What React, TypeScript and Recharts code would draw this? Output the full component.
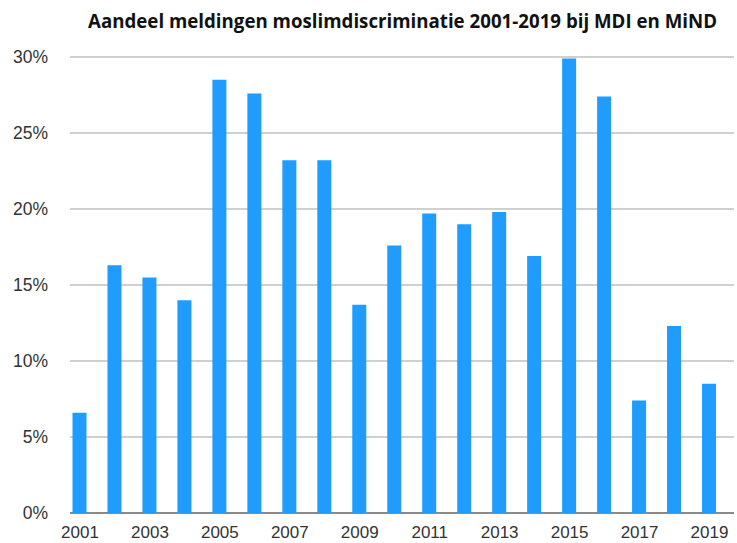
import React from "react";
import { BarChart, Bar, XAxis, YAxis, CartesianGrid } from "recharts";

const years = ["2001","2002","2003","2004","2005","2006","2007","2008","2009","2010","2011","2012","2013","2014","2015","2016","2017","2018","2019"];
const shares = [6.6,16.3,15.5,14.0,28.5,27.6,23.2,23.2,13.7,17.6,19.7,19.0,19.8,16.9,29.9,27.4,7.4,12.3,8.5];
const yTicks = [0,5,10,15,20,25,30];
const title = "Aandeel meldingen moslimdiscriminatie 2001-2019 bij MDI en MiND";

const data = years.map((y, i) => ({ year: y, value: shares[i] }));

const W = 737, H = 543;
const TOP = 57, BOTTOM = 30;
const BASE = H - BOTTOM;
const FONT = "'Liberation Sans', Arial, Helvetica, sans-serif";

const Grid = (p: any) => {
  const isBase = Math.abs(p.y1 - BASE) < 1;
  return (
    <line
      key={`g-${p.y1}`}
      x1={p.x1 + 7.5}
      x2={p.x2}
      y1={p.y1}
      y2={p.y2}
      stroke={isBase ? "#8a8a8a" : "#d0d0d0"}
      strokeWidth={2}
    />
  );
};

const YTick = (p: any) => (
  <text x={48} y={p.y} dy={6} textAnchor="end" fontFamily={FONT} fontSize={17.5} fill="#333">
    {p.payload.value}%
  </text>
);

export default function App() {
  return (
    <div style={{ position: "absolute", left: 0, top: 0, width: W, height: H, background: "#fff" }}>
      <BarChart width={W} height={H} data={data} margin={{ top: TOP, right: 3, bottom: 0, left: 7.5 }}>
        <text x={402.5} y={28} textAnchor="middle" fontFamily="'Open Sans', sans-serif" fontWeight={700} fontSize={19} fill="#111" textLength={629} lengthAdjust="spacingAndGlyphs">
          {title}
        </text>
        <CartesianGrid vertical={false} horizontal={Grid as any} />
        <XAxis
          dataKey="year"
          interval={1}
          axisLine={false}
          tickLine={false}
          height={BOTTOM}
          padding={{ left: 0, right: 7 }}
          tick={{ fontFamily: FONT, fontSize: 17, fill: "#333" }}
          tickMargin={7}
        />
        <YAxis
          width={55}
          domain={[0, 30]}
          ticks={yTicks}
          axisLine={false}
          tickLine={false}
          tick={YTick as any}
        />
        <Bar dataKey="value" fill="#209cff" barSize={14} isAnimationActive={false} />
      </BarChart>
    </div>
  );
}
